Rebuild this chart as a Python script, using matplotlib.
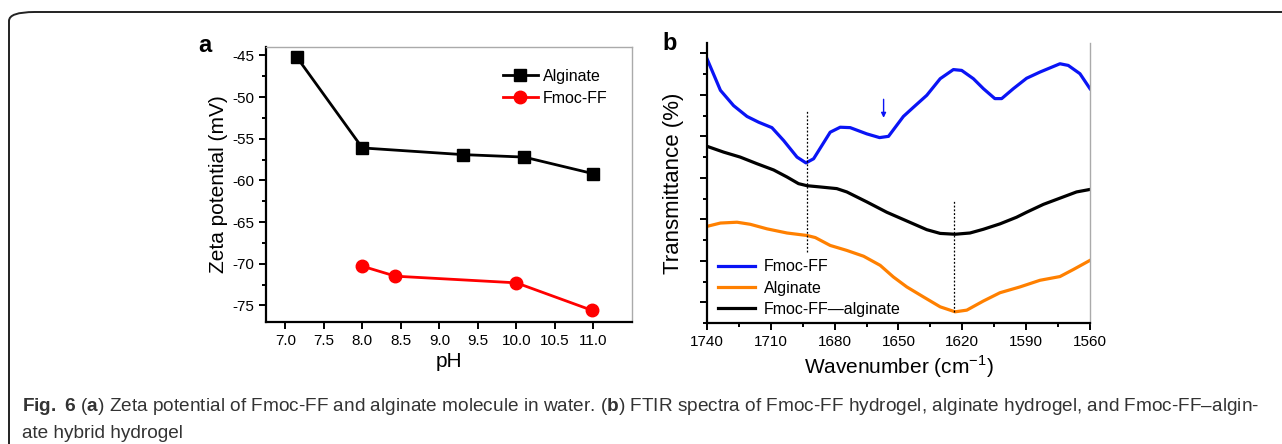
import matplotlib
matplotlib.use("Agg")

import matplotlib.pyplot as plt
from matplotlib.patches import FancyBboxPatch
from matplotlib.ticker import MultipleLocator, FormatStrFormatter, NullFormatter

plt.rcParams["font.family"] = ["Liberation Sans", "DejaVu Sans"]
plt.rcParams["axes.unicode_minus"] = False
plt.rcParams["mathtext.fontset"] = "custom"
plt.rcParams["mathtext.bf"] = "Liberation Sans:bold"
plt.rcParams["mathtext.rm"] = "Liberation Sans"

# =========================================================
# DATA
# =========================================================

# panel a: zeta potential
ph_alginate = [7.15, 8.0, 9.3, 10.1, 11.0]
zeta_alginate = [-45.2, -56.1, -56.9, -57.2, -59.2]
ph_fmoc = [8.0, 8.43, 10.0, 10.98]
zeta_fmoc = [-70.3, -71.5, -72.3, -75.6]

# panel b: FTIR (arbitrary offset transmittance)
wn_fmoc = [1740, 1733.7, 1727.5, 1721.2, 1715.7, 1709.5, 1704.0, 1697.7, 1693.5,
           1689.9, 1686.0, 1682.1, 1677.4, 1672.7, 1664.9, 1658.9, 1654.7, 1647.7,
           1643.0, 1636.7, 1630.4, 1624.2, 1620.3, 1614.8, 1610.1, 1604.7, 1601.5,
           1596.0, 1589.8, 1583.5, 1574.1, 1570.2, 1564.7, 1560]
tr_fmoc = [6.37, 5.61, 5.24, 4.98, 4.84, 4.71, 4.40, 4.00, 3.86,
           3.96, 4.28, 4.60, 4.72, 4.71, 4.56, 4.47, 4.50, 4.98,
           5.20, 5.49, 5.89, 6.11, 6.09, 5.89, 5.65, 5.41, 5.41,
           5.65, 5.90, 6.05, 6.25, 6.21, 6.01, 5.65]

wn_hybrid = [1740, 1732.2, 1724.4, 1716.5, 1708.7, 1702.4, 1697.0, 1693.0, 1686.8,
             1679.0, 1674.3, 1664.9, 1655.5, 1646.1, 1636.7, 1630.4, 1623.4, 1616.4,
             1610.1, 1602.3, 1594.5, 1589.8, 1581.9, 1574.1, 1566.3, 1560]
tr_hybrid = [4.26, 4.12, 4.00, 3.84, 3.69, 3.52, 3.36, 3.31, 3.28,
             3.24, 3.16, 2.92, 2.67, 2.46, 2.25, 2.16, 2.14, 2.17,
             2.26, 2.39, 2.55, 2.67, 2.86, 3.01, 3.16, 3.22]

wn_alg = [1740, 1733.7, 1725.9, 1719.7, 1711.8, 1702.4, 1693.0, 1689.1, 1682.1,
          1674.3, 1666.4, 1658.6, 1652.4, 1646.1, 1638.3, 1630.4, 1623.4, 1617.9,
          1610.1, 1602.3, 1592.9, 1583.5, 1574.1, 1567.8, 1560]
tr_alg = [2.33, 2.41, 2.43, 2.38, 2.27, 2.17, 2.11, 2.06, 1.87,
          1.75, 1.61, 1.39, 1.11, 0.87, 0.63, 0.39, 0.27, 0.31,
          0.53, 0.73, 0.87, 1.03, 1.12, 1.29, 1.51]

# guide lines and arrow
vline_wn = [1693, 1623.7]
vline_lo = [1.71, 0.26]
vline_hi = [5.12, 2.97]
arrow_wn = 1657
arrow_y = (5.46, 4.88)

caption_1 = (r"$\mathbf{Fig.}$ $\mathbf{6}$ ($\mathbf{a}$) Zeta potential of Fmoc-FF and alginate molecule in water. "
             r"($\mathbf{b}$) FTIR spectra of Fmoc-FF hydrogel, alginate hydrogel, and Fmoc-FF–algin-")
caption_2 = "ate hybrid hydrogel"

# =========================================================
# FIGURE
# =========================================================

fig = plt.figure(figsize=(12.82, 4.44), dpi=100)

# outer frame with rounded top-left corner
fig.patches.append(FancyBboxPatch(
    (9 / 1282, -0.2), 1.2, 1 - 12 / 444 + 0.2,
    boxstyle="round,pad=0,rounding_size=0.02",
    facecolor="none", edgecolor="#222222", lw=1.4,
    transform=fig.transFigure, zorder=0, mutation_aspect=444 / 1282 * 2.9,
))


def style_axes(ax):
    for side in ("left", "bottom"):
        ax.spines[side].set_linewidth(1.6)
    ax.tick_params(which="both", direction="out", width=1.4, labelsize=11)
    ax.tick_params(which="major", length=5)
    ax.tick_params(which="minor", length=3)


# ---------------- panel a ----------------
ax1 = fig.add_axes([0.2075, 0.2748, 0.2855, 0.619])
ax1.plot(ph_alginate, zeta_alginate, color="black", lw=2, marker="s", ms=8,
         label="Alginate")
ax1.plot(ph_fmoc, zeta_fmoc, color="red", lw=2, marker="o", ms=9,
         label="Fmoc-FF")
ax1.set_xlim(6.75, 11.5)
ax1.set_ylim(-77, -44)
ax1.xaxis.set_major_formatter(FormatStrFormatter("%.1f"))
ax1.xaxis.set_ticks_position("bottom")
ax1.set_xticks([7.0, 7.5, 8.0, 8.5, 9.0, 9.5, 10.0, 10.5, 11.0])
ax1.yaxis.set_major_locator(MultipleLocator(5))
ax1.yaxis.set_minor_locator(MultipleLocator(2.5))
ax1.yaxis.set_ticks_position("left")
for side in ("top", "right"):
    ax1.spines[side].set_color("#aaaaaa")
    ax1.spines[side].set_linewidth(1.0)
style_axes(ax1)
ax1.set_xlabel("pH", fontsize=15, labelpad=3)
ax1.set_ylabel("Zeta potential (mV)", fontsize=15, labelpad=3)
ax1.legend(loc="upper right", frameon=False, fontsize=11.5, handlelength=2.2,
           handletextpad=0.3, labelspacing=0.45, borderaxespad=0.0,
           bbox_to_anchor=(0.95, 0.945))
fig.text(198 / 1282, 1 - 52 / 444, "a", fontsize=17, fontweight="bold")

# ---------------- panel b ----------------
ax2 = fig.add_axes([0.5515, 0.2725, 0.2987, 0.6306])
ax2.plot(wn_fmoc, tr_fmoc, color="#0a14f5", lw=2.3, label="Fmoc-FF")
ax2.plot(wn_alg, tr_alg, color="#ff8000", lw=2.3, label="Alginate")
ax2.plot(wn_hybrid, tr_hybrid, color="black", lw=2.3, label="Fmoc-FF\u2014alginate")
for xv, lo, hi in zip(vline_wn, vline_lo, vline_hi):
    ax2.plot([xv, xv], [lo, hi], color="black", lw=0.9, linestyle=(0, (1.5, 1.5)))
ax2.annotate("", xy=(arrow_wn, arrow_y[1]), xytext=(arrow_wn, arrow_y[0]),
             arrowprops=dict(arrowstyle="-|>", color="#0a14f5", lw=1.0,
                             mutation_scale=7))
ax2.set_xlim(1740, 1560)
ax2.set_ylim(0, 6.75)
ax2.xaxis.set_major_locator(MultipleLocator(30))
ax2.xaxis.set_minor_locator(MultipleLocator(15))
ax2.xaxis.set_ticks_position("bottom")
ax2.set_yticks([0.5, 1.5, 2.5, 3.5, 4.5, 5.5, 6.5])
ax2.yaxis.set_minor_locator(MultipleLocator(1.0))
ax2.yaxis.set_major_formatter(NullFormatter())
ax2.yaxis.set_ticks_position("left")
ax2.spines["top"].set_visible(False)
ax2.spines["right"].set_color("#aaaaaa")
ax2.spines["right"].set_linewidth(1.0)
style_axes(ax2)
ax2.set_xlabel("Wavenumber (cm$^{-1}$)", fontsize=15, labelpad=3)
ax2.set_ylabel("Transmittance (%)", fontsize=16, labelpad=8)
ax2.legend(loc="lower left", frameon=False, fontsize=11.5, handlelength=2.3,
           handletextpad=0.55, labelspacing=0.38, borderaxespad=0.0,
           bbox_to_anchor=(0.012, 0.0))
fig.text(662 / 1282, 1 - 50 / 444, "b", fontsize=17, fontweight="bold")

# ---------------- caption ----------------
fig.text(22 / 1282, 1 - 411 / 444, caption_1, fontsize=13.7, color="#333333")
fig.text(22 / 1282, 1 - 438 / 444, caption_2, fontsize=13.7, color="#333333")

plt.savefig("out.png", dpi=100)
print("Saved out.png")
